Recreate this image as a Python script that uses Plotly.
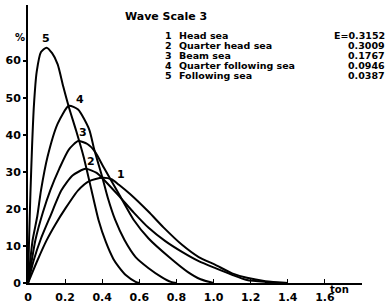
import plotly.graph_objects as go

# ---- data (ton, %) ----
c1_x = [0, 0.05, 0.10, 0.15, 0.20, 0.27, 0.33, 0.40, 0.45, 0.49, 0.55, 0.65, 0.73, 0.83, 0.92, 1.01, 1.10, 1.18, 1.28, 1.40]
c1_y = [0, 6, 11.5, 16, 20, 25, 27.5, 28.4, 28, 26.5, 24, 19.2, 15, 10.3, 7, 4.9, 2.6, 1.4, 0.5, 0]

c2_x = [0, 0.03, 0.07, 0.12, 0.18, 0.24, 0.31, 0.37, 0.41, 0.49, 0.57, 0.65, 0.74, 0.83, 0.92, 1.01, 1.10, 1.18, 1.28, 1.40]
c2_y = [0, 6, 12, 18, 25, 29, 30.8, 29.7, 27.8, 23.5, 19, 14.9, 11.3, 8.4, 5.9, 4, 2.2, 0.8, 0.3, 0]

c3_x = [0, 0.02, 0.04, 0.08, 0.12, 0.17, 0.22, 0.27, 0.32, 0.36, 0.41, 0.49, 0.57, 0.65, 0.76, 0.86, 0.93, 1.0]
c3_y = [0, 6, 11.6, 19, 25, 31, 36, 38.3, 37.5, 35.5, 31, 24, 17, 12, 7, 3, 1, 0]

c4_x = [0, 0.012, 0.025, 0.05, 0.07, 0.105, 0.16, 0.22, 0.27, 0.33, 0.357, 0.40, 0.43, 0.47, 0.52, 0.58, 0.65, 0.72, 0.77, 0.80]
c4_y = [0, 6, 11.6, 18, 25, 34, 43, 47.8, 46.8, 41.4, 36, 28.6, 23, 17, 11.6, 7, 4, 1.6, 0.3, 0]

c5_x = [0, 0.006, 0.013, 0.022, 0.032, 0.047, 0.07, 0.10, 0.13, 0.16, 0.19, 0.22, 0.26, 0.30, 0.34, 0.38, 0.42, 0.46, 0.49, 0.53, 0.58, 0.60]
c5_y = [0, 12, 24, 37, 48, 57, 62.3, 63.5, 62, 59, 53, 47.5, 41, 34, 25.5, 17, 11, 6.5, 4.3, 2, 0.3, 0]

curve_ids = ["1", "2", "3", "4", "5"]
curve_label_x = [0.50, 0.34, 0.295, 0.28, 0.097]
curve_label_y = [29.3, 32.8, 40.6, 49.6, 66.0]

legend_names = ["Head sea", "Quarter head sea", "Beam sea", "Quarter following sea", "Following sea"]
legend_values = ["E=0.3152", "0.3009", "0.1767", "0.0946", "0.0387"]

x_ticks = [0, 0.2, 0.4, 0.6, 0.8, 1.0, 1.2, 1.4, 1.6]
x_ticktext = ["0", "0.2", "0.4", "0.6", "0.8", "1.0", "1.2", "1.4", "1.6"]
y_ticks = [0, 10, 20, 30, 40, 50, 60]

FONT = "DejaVu Sans"

fig = go.Figure()
for xs, ys in [(c1_x, c1_y), (c2_x, c2_y), (c3_x, c3_y), (c4_x, c4_y), (c5_x, c5_y)]:
    fig.add_trace(go.Scatter(x=xs, y=ys, mode="lines",
                             line=dict(color="black", width=2, shape="spline", smoothing=0.6),
                             showlegend=False, hoverinfo="skip"))

W, H = 387, 308
ML, MR, MT, MB = 28, 25, 5, 25
pw, ph = W - ML - MR, H - MT - MB


def px(x):
    return (x - ML) / pw


def py(y):
    return (H - MB - y) / ph


annotations = []
for cid, lx, ly in zip(curve_ids, curve_label_x, curve_label_y):
    annotations.append(dict(x=lx, y=ly, xref="x", yref="y", text="<b>%s</b>" % cid,
                            showarrow=False, font=dict(family=FONT, size=11, color="black")))

annotations.append(dict(x=px(123), y=py(17), xref="paper", yref="paper", text="<b>Wave Scale 3</b>",
                        showarrow=False, xanchor="left", yanchor="middle",
                        font=dict(family=FONT, size=11, color="black")))

row_y = [35, 45, 55, 65, 75]
KEY_SIZE = 9.5
for i in range(5):
    annotations.append(dict(x=px(168), y=py(row_y[i]), xref="paper", yref="paper",
                            text="<b>%s</b>" % curve_ids[i], showarrow=False, borderpad=0,
                            xanchor="center", yanchor="middle", font=dict(family=FONT, size=KEY_SIZE, color="black")))
    annotations.append(dict(x=px(178), y=py(row_y[i]), xref="paper", yref="paper",
                            text="<b>%s</b>" % legend_names[i], showarrow=False, borderpad=0,
                            xanchor="left", yanchor="middle", font=dict(family=FONT, size=KEY_SIZE, color="black")))
    annotations.append(dict(x=px(386), y=py(row_y[i]), xref="paper", yref="paper",
                            text="<b>%s</b>" % legend_values[i], showarrow=False, borderpad=0,
                            xanchor="right", yanchor="middle", font=dict(family=FONT, size=KEY_SIZE, color="black")))

annotations.append(dict(x=px(13), y=py(30), xref="paper", yref="paper",
                        text="<b>%</b>", showarrow=False, font=dict(family=FONT, size=10, color="black")))
annotations.append(dict(x=px(351), y=py(297), xref="paper", yref="paper",
                        text="<b>ton</b>", showarrow=False, font=dict(family=FONT, size=10, color="black")))

fig.update_layout(
    width=W, height=H,
    margin=dict(l=ML, r=MR, t=MT, b=MB),
    paper_bgcolor="white", plot_bgcolor="white",
    showlegend=False,
    annotations=annotations,
    font=dict(family=FONT, size=11, color="black"),
)
fig.update_xaxes(range=[0, 1.8], tickvals=x_ticks, ticktext=["<b>%s</b>" % t for t in x_ticktext],
                 showgrid=False, zeroline=False, showline=True, linecolor="black", linewidth=2,
                 ticks="inside", ticklen=4, tickcolor="black", tickwidth=1, ticklabelstandoff=3,
                 tickfont=dict(family=FONT, size=11, color="black"))
fig.update_yaxes(range=[0, 75], tickvals=y_ticks, ticktext=["<b>%d</b>" % t for t in y_ticks],
                 showgrid=False, zeroline=False, showline=True, linecolor="black", linewidth=2,
                 ticks="outside", ticklen=3, tickcolor="black", tickwidth=2,
                 tickfont=dict(family=FONT, size=11, color="black"))

fig.write_html("out.html", config={"staticPlot": True, "displayModeBar": False},
               post_script="document.body.style.margin='0';document.body.style.padding='0';")
